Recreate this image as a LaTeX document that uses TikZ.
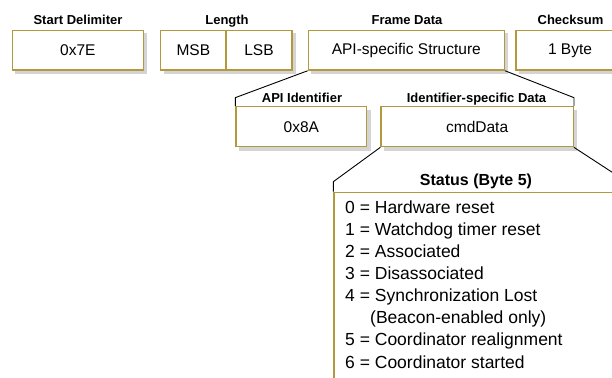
\documentclass[tikz,border=0pt]{standalone}
\usepackage{fontspec}
\setmainfont{Liberation Sans}
\usetikzlibrary{calc,backgrounds}
\definecolor{gold}{RGB}{178,152,62}
\definecolor{shadowgray}{RGB}{212,212,212}
\begin{document}
\begin{tikzpicture}[x=1pt,y=-1pt,
  fbox/.style={draw=gold, line width=1.3pt, fill=white, minimum height=39.5pt, inner sep=0pt,
    font=\fontsize{15.5}{18}\selectfont},
  shadowbox/.style={fill=shadowgray, draw=none},
  flabel/.style={font=\bfseries\fontsize{13}{15}\selectfont, anchor=base, inner sep=0pt},
  conn/.style={draw=black, line width=0.9pt},
  item/.style={anchor=base west, inner sep=0pt, font=\fontsize{17.5}{20}\selectfont}]
\useasboundingbox (0,0) rectangle (612,377);

% top-level frame
\node[fbox, minimum width=131pt] (sd) at (77.8,50.35) {0x7E};
\node[fbox, minimum width=65.3pt] (msb) at (193.35,50.35) {MSB};
\node[fbox, minimum width=66pt] (lsb) at (259,50.35) {LSB};
\node[fbox, minimum width=196pt] (fd) at (406.3,50.35) {API-specific Structure};
\node[fbox, minimum width=108pt] (cs) at (570,50.35) {1 Byte};

\node[flabel] (sdl) at (78,24.3) {Start Delimiter};
\node[flabel] (lenl) at (227,24.3) {Length};
\node[flabel] (fdl) at (407,24.3) {Frame Data};
\node[flabel] (csl) at (570.5,24.3) {Checksum};

% second level
\node[fbox, minimum width=130.7pt, minimum height=40pt] (api) at (301.35,126.7) {0x8A};
\node[fbox, minimum width=192.3pt, minimum height=40pt] (isd) at (477.15,126.7) {cmdData};
\node[flabel] (apil) at (302,102.3) {API Identifier};
\node[flabel] (isdl) at (476.5,102.3) {Identifier-specific Data};

% shadows behind the boxes
\begin{scope}[on background layer]
\foreach \n in {sd,msb,lsb,fd,cs,api,isd}
  \fill[shadowbox] ([xshift=3.5pt,yshift=-3.5pt]\n.south west) rectangle ([xshift=3.5pt,yshift=-3.5pt]\n.north east);
\end{scope}

% status box
\node[draw=gold, line width=1.3pt, minimum width=292pt, minimum height=230pt, anchor=north west, inner sep=0pt] (st) at (333.3,191.7) {};
\node[font=\bfseries\fontsize{16}{19}\selectfont, anchor=base, inner sep=0pt] (stt) at (476,185) {Status (Byte 5)};

% connectors
\coordinate (k1) at ([yshift=8.4pt]api.north west);
\coordinate (k2) at ([yshift=8.4pt]isd.north east);
\coordinate (k3) at ([yshift=10pt]st.north west);
\coordinate (k4) at ([yshift=10pt]st.north east);
\draw[conn] (fd.south west) -- (k1) -- (api.north west);
\draw[conn] (fd.south east) -- (k2) -- (isd.north east);
\draw[conn] (isd.south west) -- (k3) -- (st.north west);
\draw[conn] (isd.south east) -- (k4) -- (st.north east);

% status list
\node[item] (l0) at (345,213.3) {0 = Hardware reset};
\node[item] (l1) at (345,235.4) {1 = Watchdog timer reset};
\node[item] (l2) at (345,257.5) {2 = Associated};
\node[item] (l3) at (345,279.6) {3 = Disassociated};
\node[item] (l4) at (345,301.7) {4 = Synchronization Lost};
\node[item] (l4b) at (370,323.8) {(Beacon-enabled only)};
\node[item] (l5) at (345,345.9) {5 = Coordinator realignment};
\node[item] (l6) at (345,368.0) {6 = Coordinator started};
\end{tikzpicture}
\end{document}
